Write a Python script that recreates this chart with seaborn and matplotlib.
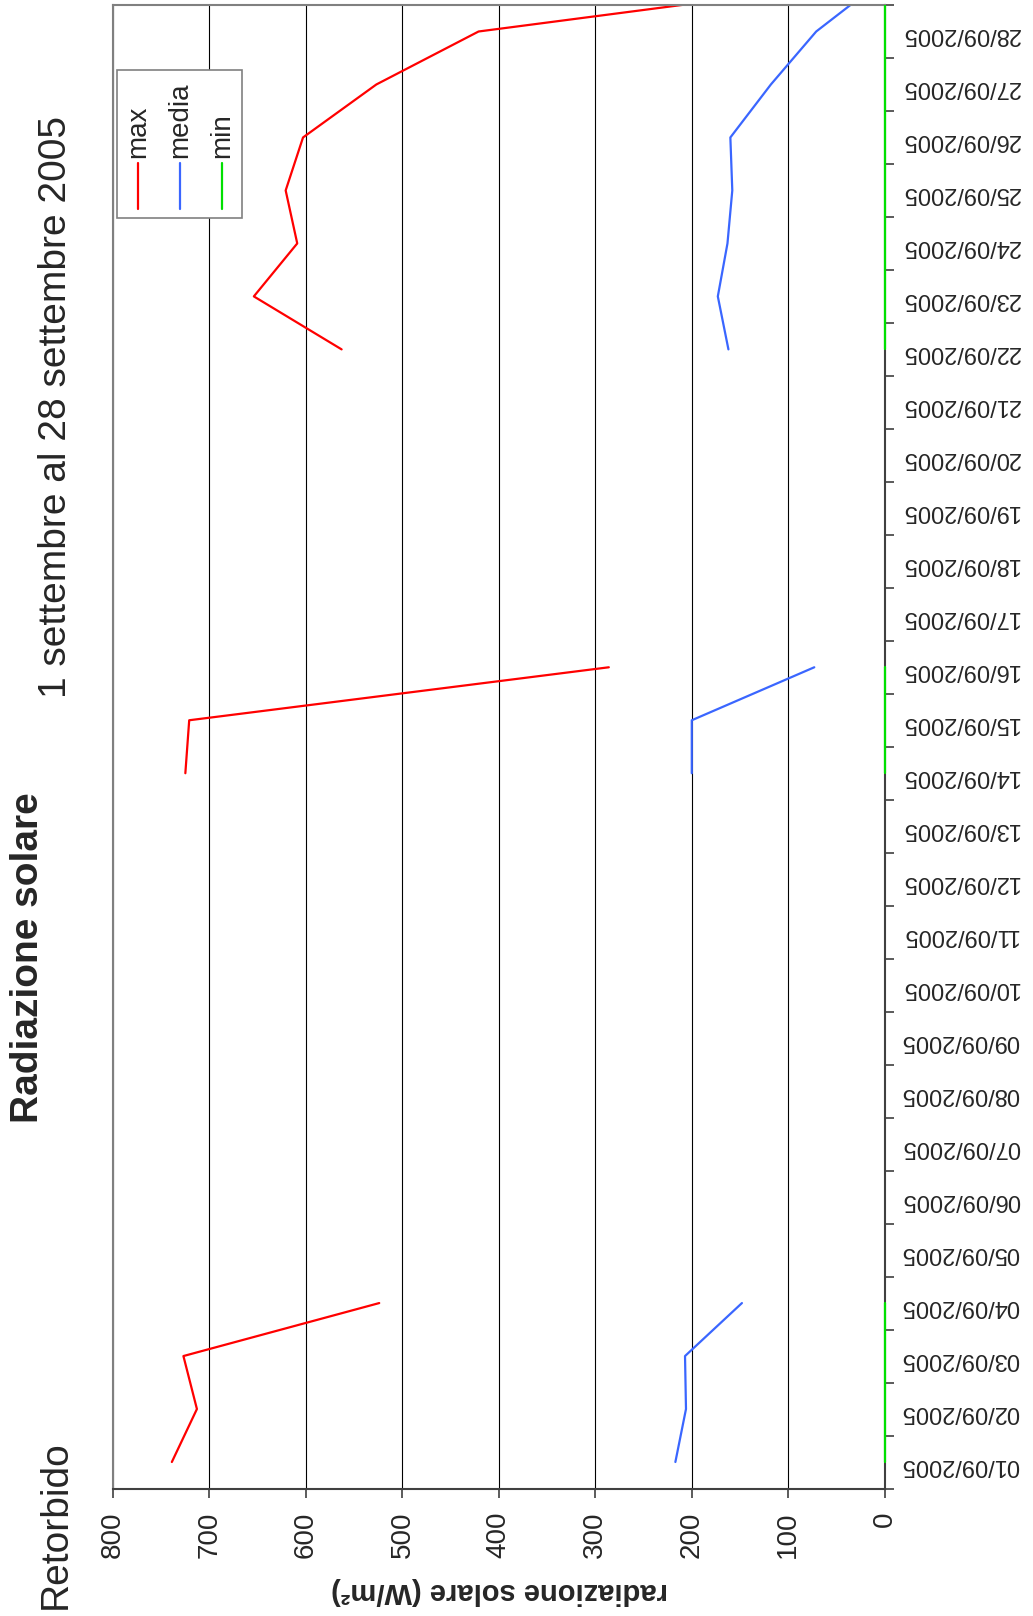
import numpy as np
import pandas as pd
import seaborn as sns
import matplotlib.pyplot as plt
from matplotlib.patches import Rectangle
from matplotlib.lines import Line2D
from matplotlib.transforms import Bbox, TransformedBbox

nan = np.nan

# daily values, W/m2 (29/09 is the off-chart point the lines run to)
dates = ["01/09/2005", "02/09/2005", "03/09/2005", "04/09/2005", "05/09/2005",
         "06/09/2005", "07/09/2005", "08/09/2005", "09/09/2005", "10/09/2005",
         "11/09/2005", "12/09/2005", "13/09/2005", "14/09/2005", "15/09/2005",
         "16/09/2005", "17/09/2005", "18/09/2005", "19/09/2005", "20/09/2005",
         "21/09/2005", "22/09/2005", "23/09/2005", "24/09/2005", "25/09/2005",
         "26/09/2005", "27/09/2005", "28/09/2005", "29/09/2005"]
max_vals = [739, 713, 727, 524, nan, nan, nan, nan, nan, nan, nan, nan, nan,
            725, 721, 286, nan, nan, nan, nan, nan,
            563, 654, 609, 621, 603, 527, 421, 0]
media_vals = [217, 206, 207, 148, nan, nan, nan, nan, nan, nan, nan, nan, nan,
              200, 200, 73, nan, nan, nan, nan, nan,
              162, 173, 163, 158, 160, 118, 71, 0]
min_vals = [0, 0, 0, 0, nan, nan, nan, nan, nan, nan, nan, nan, nan,
            0, 0, 0, nan, nan, nan, nan, nan,
            0, 0, 0, 0, 0, 0, 0, 0]
n_shown = 28

series = {"max": max_vals, "media": media_vals, "min": min_vals}
colors = {"max": "#ff0000", "media": "#3a66ff", "min": "#00e000"}

# long table, one unit per unbroken run so gaps stay open
rows = []
for name, vals in series.items():
    seg = 0
    prev = False
    for i, v in enumerate(vals):
        ok = not np.isnan(v)
        if ok and not prev:
            seg += 1
        if ok:
            rows.append({"idx": i, "val": v, "serie": name, "seg": f"{name}{seg}"})
        prev = ok
df = pd.DataFrame(rows)

sns.set_style("white")
plt.rcParams["font.family"] = ["Liberation Sans", "DejaVu Sans"]

W, H = 1033, 1616
fig = plt.figure(figsize=(W / 100, H / 100), dpi=100)
ax = fig.add_axes([113 / W, 1 - 1488.5 / H, (884.7 - 113) / W, (1488.5 - 5) / H])

def fx(px):
    return px / W

def fy(py):
    return 1 - py / H

sns.lineplot(data=df, x="val", y="idx", hue="serie", units="seg", estimator=None,
             orient="y", palette=colors, hue_order=["max", "media", "min"],
             linewidth=1.6, legend=False, ax=ax)

# let the min line (sitting on zero) show full width over the axis
clip = TransformedBbox(Bbox([[-0.02, 0], [1.02, 1]]), ax.transAxes)
for ln in ax.lines:
    if ln.get_color() == colors["min"]:
        ln.set_clip_box(clip)
        ln.set_zorder(5)

ax.set_xlim(800, 0)
ax.set_ylim(-0.5, n_shown - 0.5)
ax.set_xticks(range(0, 801, 100))
ax.set_xticklabels([str(v) for v in range(0, 801, 100)], rotation=90, fontsize=20)
ax.set_xlabel("")
ax.set_ylabel("")

ax.yaxis.tick_right()
ax.set_yticks(np.arange(-0.5, n_shown, 1))
ax.set_yticklabels([])
ax.set_yticks(range(n_shown), minor=True)
ax.set_yticklabels(dates[:n_shown], minor=True, rotation=180, fontsize=17)
ax.tick_params(axis="y", which="minor", length=0, pad=12)
ax.tick_params(axis="y", which="major", direction="out", length=6.5, width=1.2,
               color="#404040", right=True, left=False)
ax.tick_params(axis="x", direction="out", length=6.5, width=1.2, color="#404040",
               pad=10, bottom=True)

ax.set_axisbelow(True)
ax.grid(axis="x", color="black", linewidth=0.8)
ax.grid(axis="y", visible=False)
for side in ["left", "top"]:
    ax.spines[side].set_color("#808080")
    ax.spines[side].set_linewidth(1.5)
for side in ["bottom", "right"]:
    ax.spines[side].set_color("#404040")
    ax.spines[side].set_linewidth(1.5)

# legend box drawn by hand so its text can be turned
fig.add_artist(Rectangle((fx(116.7), fy(218)), fx(242.3) - fx(116.7), fy(70) - fy(218),
                         transform=fig.transFigure, facecolor="white",
                         edgecolor="#808080", linewidth=1.2, zorder=10))
for name, xp in zip(["max", "media", "min"], [138.3, 180, 222]):
    fig.add_artist(Line2D([fx(xp), fx(xp)], [fy(209), fy(163)], transform=fig.transFigure,
                          color=colors[name], linewidth=1.6, zorder=11))
    fig.text(fx(xp), fy(158), name, rotation=90, fontsize=20, ha="center", va="bottom",
             zorder=11)

# titles and labels
fig.text(fx(28), fy(958), "Radiazione solare", rotation=90, fontsize=28,
         fontweight="bold", ha="center", va="center")
fig.text(fx(56), fy(407), "1 settembre al 28 settembre 2005", rotation=90,
         fontsize=28, ha="center", va="center")
fig.text(fx(56), fy(1525), "Retorbido", rotation=90, fontsize=28,
         ha="center", va="center")
fig.text(fx(500), fy(1591), "radiazione solare (W/m²)", rotation=180, fontsize=21,
         fontweight="bold", ha="center", va="center")

fig.savefig("out.png", dpi=100)
